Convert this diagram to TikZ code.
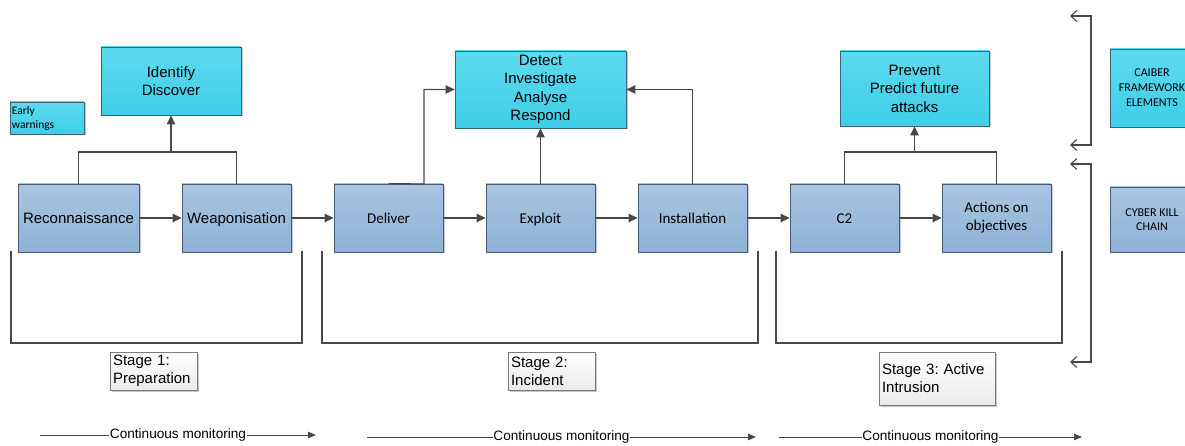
\documentclass[tikz,border=0pt]{standalone}
\usepackage{fontspec}
\setmainfont{Liberation Sans}
\newfontfamily\calib{Carlito}
\usetikzlibrary{arrows.meta,shadows,calc}
\frenchspacing

\definecolor{edge}{HTML}{484848}
\definecolor{bluetop}{HTML}{A9C6E2}
\definecolor{bluebot}{HTML}{8DB1D5}
\definecolor{blueline}{HTML}{4B5B6B}
\definecolor{cyantop}{HTML}{5DDAEE}
\definecolor{cyanbot}{HTML}{3ECEE8}
\definecolor{cyanline}{HTML}{3B6573}
\definecolor{labelline}{HTML}{7A7A7A}

\begin{document}
\begin{tikzpicture}[x=1pt,y=-1pt,
  shade/.style={drop shadow={shadow xshift=1.5pt,shadow yshift=-1.5pt,opacity=0.22,fill=black}},
  killbox/.style={shade,draw=blueline,line width=0.8pt,top color=bluetop,bottom color=bluebot,
    minimum width=109pt,minimum height=68pt,inner sep=0pt,align=center,
    font=\fontsize{15}{18}\selectfont},
  oneline/.style={text height=11pt,text depth=0pt},
  cali/.style={font=\calib\fontsize{15}{18}\selectfont},
  cabox/.style={shade,draw=cyanline,line width=0.8pt,top color=cyantop,bottom color=cyanbot,
    inner sep=0pt,align=center,font=\fontsize{15}{18.5}\selectfont},
  labelbox/.style={shade,draw=labelline,line width=0.8pt,top color=white,bottom color=black!8,
    inner xsep=3pt,inner ysep=0pt,align=left,font=\fontsize{15}{18}\selectfont},
  conn/.style={draw=edge,line width=1.2pt,-{Triangle[length=9pt,width=8.5pt]}},
  plain/.style={draw=edge,line width=1.2pt},
  bar/.style={draw=edge,line width=1.1pt,
    {Straight Barb[length=6pt,width=11pt]}-{Straight Barb[length=6pt,width=11pt]}},
  mon/.style={draw=edge,line width=1pt,-{Triangle[length=8pt,width=6.5pt]}},
  monlabel/.style={fill=white,inner xsep=0.5pt,inner ysep=1pt,font=\fontsize{13.6}{16}\selectfont}]

\useasboundingbox (0,0) rectangle (1185,446);

% cyber kill chain steps
\node[killbox,oneline,minimum width=121pt] (recon) at (78.5,218) {Reconnaissance};
\node[killbox,oneline] (weap) at (236.5,218) {Weaponisation};
\node[killbox,oneline,cali] (deliver) at (388.5,218) {Deliver};
\node[killbox,oneline,cali] (exploit) at (540.5,218) {Exploit};
\node[killbox,oneline,cali] (install) at (692.5,218) {Installation};
\node[killbox,oneline,cali] (c2) at (844.5,218) {C2};
\node[killbox,cali] (actions) at (996.5,218) {Actions on\\objectives};

% framework elements
\node[cabox,minimum width=140pt,minimum height=68pt] (identify) at (171,81) {Identify\\Discover};
\node[cabox,minimum width=171pt,minimum height=77pt] (detect) at (540.5,89.5) {Detect\\Investigate\\Analyse\\Respond};
\node[cabox,minimum width=149pt,minimum height=75pt] (prevent) at (914.5,88.5) {Prevent\\Predict future\\attacks};
\node[cabox,minimum width=74pt,minimum height=32pt,text width=70pt,align=left,
  font=\calib\fontsize{11.5}{14}\selectfont] (early) at (47,118) {Early\\warnings};

% legend boxes on the right
\node[cabox,minimum width=84pt,minimum height=78pt,font=\calib\fontsize{12}{15}\selectfont]
  (caiber) at (1152,88) {CAIBER\\FRAMEWORK\\ELEMENTS};
\node[killbox,minimum width=84pt,minimum height=65pt,font=\calib\fontsize{12}{14.5}\selectfont]
  (ckc) at (1152,219.5) {CYBER KILL\\CHAIN};

% stage labels
\node[labelbox,minimum width=87pt,text width=81pt,minimum height=38pt] (st1) at (153.5,371) {Stage 1:\\Preparation};
\node[labelbox,minimum width=87pt,text width=81pt,minimum height=38pt] (st2) at (551.5,371) {Stage 2:\\Incident};
\node[labelbox,minimum width=116pt,text width=110pt,minimum height=53pt] (st3) at (937,378.5) {Stage 3: Active\\Intrusion};

% flow along the chain
\draw[conn] (recon) -- (weap);
\draw[conn] (weap) -- (deliver);
\draw[conn] (deliver) -- (exploit);
\draw[conn] (exploit) -- (install);
\draw[conn] (install) -- (c2);
\draw[conn] (c2) -- (actions);

% stage 1 feeds identify/discover
\coordinate (j1) at (171,152);
\draw[plain] (recon.north) |- (j1) -| (weap.north);
\draw[conn] (j1) -- (identify.south);

% stage 2 feeds detect/investigate
\coordinate (dk) at (424,184);
\draw[conn] (deliver.north) -- (dk) |- (detect.west);
\draw[conn] (exploit.north) -- (detect.south);
\draw[conn] (install.north) |- (detect.east);

% stage 3 feeds prevent/predict
\coordinate (j3) at (914.5,152);
\draw[plain] (c2.north) |- (j3) -| (actions.north);
\draw[conn] (j3) -- (prevent.south);

% stage brackets
\coordinate (b1a) at (11,251);   \coordinate (b1b) at (302,343);  \coordinate (b1c) at (302,251);
\coordinate (b2a) at (322,251);  \coordinate (b2b) at (758,343);  \coordinate (b2c) at (758,251);
\coordinate (b3a) at (776,251);  \coordinate (b3b) at (1062,343); \coordinate (b3c) at (1062,251);
\draw[plain] (b1a) |- (b1b) -- (b1c);
\draw[plain] (b2a) |- (b2b) -- (b2c);
\draw[plain] (b3a) |- (b3b) -- (b3c);

% legend brackets
\coordinate (r1a) at (1070,16);  \coordinate (r1b) at (1091,16);
\coordinate (r1c) at (1091,145); \coordinate (r1d) at (1070,145);
\coordinate (r2a) at (1070,164); \coordinate (r2b) at (1091,164);
\coordinate (r2c) at (1091,362); \coordinate (r2d) at (1070,362);
\draw[bar] (r1a) -- (r1b) -- (r1c) -- (r1d);
\draw[bar] (r2a) -- (r2b) -- (r2c) -- (r2d);

% continuous monitoring
\coordinate (m1a) at (40,435);  \coordinate (m1b) at (316,435);
\coordinate (m2a) at (367,437); \coordinate (m2b) at (756,437);
\coordinate (m3a) at (779,437); \coordinate (m3b) at (1082,437);
\draw[mon] (m1a) -- node[monlabel] (ml1) {Continuous monitoring} (m1b);
\draw[mon] (m2a) -- node[monlabel] (ml2) {Continuous monitoring} (m2b);
\draw[mon] (m3a) -- node[monlabel] (ml3) {Continuous monitoring} (m3b);

\end{tikzpicture}
\end{document}
